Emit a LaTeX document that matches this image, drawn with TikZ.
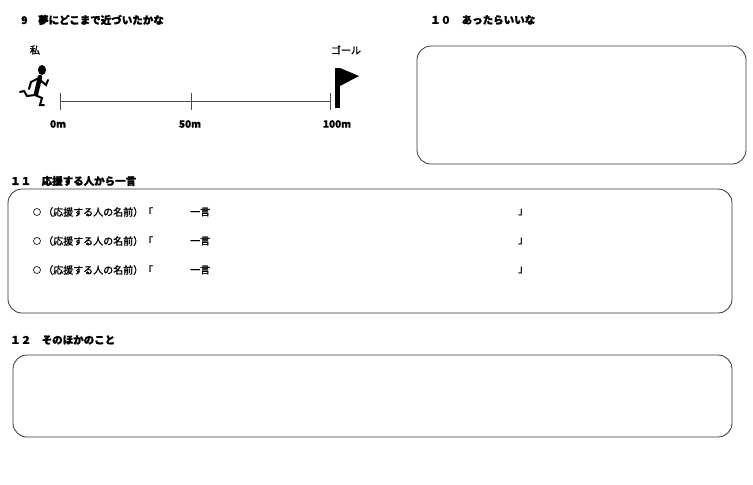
\documentclass[tikz,border=0pt]{standalone}
\usepackage{fontspec}
\newfontfamily\cjk[FakeBold=1.5]{Noto Sans CJK JP}
\begin{document}
\begin{tikzpicture}[x=1pt,y=-1pt,font=\cjk\fontsize{10}{12}\selectfont,
  box/.style={draw=black!80,line width=0.8pt,rounded corners=14pt},
  lbl/.style={anchor=west,inner sep=0pt},
  head/.style={lbl,font=\cjk\fontsize{10.5}{12}\selectfont\bfseries},
  tick/.style={draw=black!70,line width=0.6pt}]
\useasboundingbox (0,0) rectangle (753,485);
\node[head] (t9) at (21,20) {9\quad 夢にどこまで近づいたかな};
\node[head] (t10) at (430,20) {１０\quad あったらいいな};
\node[head] (t11) at (10,181) {１１\quad 応援する人から一言};
\node[head] (t12) at (10,340) {１２\quad そのほかのこと};
\draw[box] (417,46) rectangle (746,164);
\draw[box] (8,189) rectangle (732,313);
\draw[box] (13,355) rectangle (732,437);
% scale
\coordinate (s0) at (60,101); \coordinate (s50) at (191,101); \coordinate (s100) at (330,101);
\draw[tick] (s0) -- (s100);
\foreach \c in {s0,s50,s100} \draw[tick] ([yshift=-9]\c) -- ([yshift=8]\c);
\node[font=\cjk\fontsize{10}{12}\selectfont\bfseries] (l0) at (58,124) {0m};
\node[font=\cjk\fontsize{10}{12}\selectfont\bfseries] (l50) at (190,124) {50m};
\node[font=\cjk\fontsize{10}{12}\selectfont\bfseries] (l100) at (337,124) {100m};
\node (me) at (35,50) {私};
\node (goal) at (346,50) {ゴール};
% flag
\fill (335,68) rectangle (340,108);
\fill (340,68) -- (359,76) -- (340,86) -- cycle;
% runner
\fill (42,70) ellipse (4 and 5);
\draw[line width=4.5pt,line cap=round] (40,77) -- (36,94);
\draw[line width=2pt,line cap=round] (39,78) -- (31,82) -- (29,89);
\draw[line width=2pt,line cap=round] (40,80) -- (46,85) -- (48,80);
\draw[line width=2pt,line cap=round] (35,95) -- (27,96) -- (24,91) -- (20,92);
\draw[line width=2pt,line cap=round] (35,95) -- (42,98) -- (40,105) -- (44,105);
% rows
\foreach \y/\n in {212/a,241/b,270/c}{
  \draw[line width=0.6pt] (37,\y) circle (3.5);
  \node[lbl] (r\n) at (43,\y) {（応援する人の名前）「};
  \node[lbl] (w\n) at (190,\y) {一言};
  \node[lbl] (e\n) at (518,\y) {」};
}
\end{tikzpicture}
\end{document}
